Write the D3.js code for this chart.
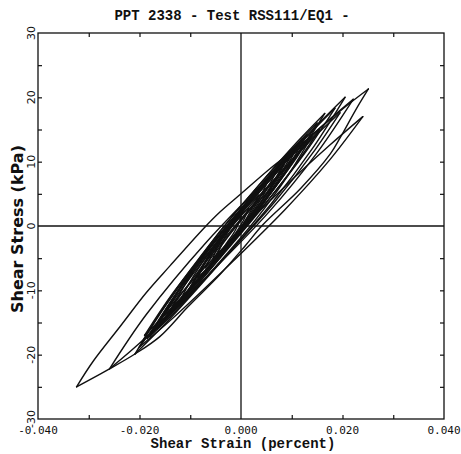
<!DOCTYPE html>
<html>
<head>
<meta charset="utf-8">
<script src="https://cdn.jsdelivr.net/npm/d3@7"></script>
<style>
  html, body { margin: 0; padding: 0; background: #fff; }
  svg { display: block; }
</style>
</head>
<body>
<svg id="chart" width="461" height="454"></svg>
<script>
// Tick values and labels
const strainMajor = [-0.04, -0.02, 0, 0.02, 0.04];
const strainMinor = [-0.03, -0.01, 0.01, 0.03];
const strainLabels = ["-0.040", "-0.020", "0.000", "0.020", "0.040"];
const stressMajor = [-30, -20, -10, 0, 10, 20, 30];
const stressMinor = [-25, -15, -5, 5, 15, 25];

// Hysteresis cycles: [shear strain (%), shear stress (kPa)]
// each runs from its negative peak up to its positive peak and back down
const cycleA = [[-0.0324,-25.0],[-0.0292,-21.1],[-0.0239,-15.7],[-0.0186,-10.3],[-0.0140,-6.2],[-0.0075,-0.5],[-0.0041,2.2],[0.0000,5.0],[0.0057,8.9],[0.0117,12.6],[0.0150,14.8],[0.0205,18.5],[0.0251,21.3],
  [0.0225,17.9],[0.0196,13.8],[0.0176,11.2],[0.0117,5.8],[0.0043,0.2],[0.0008,-3.1],[-0.0041,-7.5],[-0.0105,-12.6],[-0.0160,-17.2],[-0.0209,-19.9],[-0.0259,-22.2],[-0.0324,-25.0]];
const cycleB = [[-0.0259,-22.2],[-0.0187,-13.8],[-0.0067,-2.4],[0.0053,7.4],[0.0149,14.8],[0.0221,19.7],
  [0.0149,11.3],[0.0053,2.0],[-0.0067,-7.8],[-0.0187,-17.3],[-0.0259,-22.2]];
const cycleC = [[-0.0209,-19.9],[-0.0147,-12.2],[-0.0043,-1.4],[0.0060,8.0],[0.0143,15.1],[0.0205,20.0],
  [0.0143,12.3],[0.0060,3.5],[-0.0043,-5.9],[-0.0147,-15.0],[-0.0209,-19.9]];
const cycleD = [[-0.0200,-18.8],[-0.0134,-12.0],[-0.0024,-2.5],[0.0086,6.1],[0.0174,12.5],[0.0240,17.0],
  [0.0174,10.2],[0.0086,2.5],[-0.0024,-6.1],[-0.0134,-14.3],[-0.0200,-18.8]];
const cycleE = [[-0.0195,-18.0],[-0.0141,-11.3],[-0.0051,-1.8],[0.0039,6.7],[0.0111,13.1],[0.0165,17.5],
  [0.0111,10.8],[0.0039,3.1],[-0.0051,-5.4],[-0.0141,-13.6],[-0.0195,-18.0]];
const cycleF = [[-0.0175,-16.5],[-0.0126,-10.3],[-0.0045,-1.7],[0.0036,6.0],[0.0101,11.9],[0.0150,16.0],
  [0.0101,9.8],[0.0036,2.8],[-0.0045,-4.9],[-0.0126,-12.4],[-0.0175,-16.5]];
const cycleG = [[-0.0160,-15.0],[-0.0117,-9.3],[-0.0044,-1.5],[0.0029,5.4],[0.0087,10.6],[0.0130,14.2],
  [0.0087,8.5],[0.0029,2.2],[-0.0044,-4.7],[-0.0117,-11.4],[-0.0160,-15.0]];
const cycleH = [[-0.0140,-13.2],[-0.0103,-8.2],[-0.0040,-1.3],[0.0023,4.8],[0.0073,9.3],[0.0110,12.5],
  [0.0073,7.5],[0.0023,1.9],[-0.0040,-4.2],[-0.0103,-10.0],[-0.0140,-13.2]];
const cycleI = [[-0.0120,-11.5],[-0.0089,-7.2],[-0.0036,-1.2],[0.0017,4.0],[0.0059,7.9],[0.0090,10.5],
  [0.0059,6.2],[0.0017,1.3],[-0.0036,-3.9],[-0.0089,-8.9],[-0.0120,-11.5]];
const cycleJ = [[-0.0102,-9.8],[-0.0076,-6.1],[-0.0033,-1.1],[0.0010,3.2],[0.0044,6.4],[0.0070,8.5],
  [0.0044,4.8],[0.0010,0.7],[-0.0033,-3.6],[-0.0076,-7.7],[-0.0102,-9.8]];
const cycleK = [[-0.0085,-8.0],[-0.0065,-4.9],[-0.0031,-0.9],[0.0003,2.4],[0.0030,4.9],[0.0050,6.5],
  [0.0030,3.4],[0.0003,0.1],[-0.0031,-3.2],[-0.0065,-6.4],[-0.0085,-8.0]];
const cycleL = [[-0.0070,-6.5],[-0.0054,-4.0],[-0.0028,-0.8],[-0.0002,1.8],[0.0019,3.6],[0.0035,4.8],
  [0.0019,2.3],[-0.0002,-0.4],[-0.0028,-3.0],[-0.0054,-5.3],[-0.0070,-6.5]];
const cycleM = [[-0.0055,-5.0],[-0.0045,-3.1],[-0.0027,-0.9],[-0.0009,0.9],[0.0005,2.1],[0.0015,2.8],
  [0.0005,0.9],[-0.0009,-0.9],[-0.0027,-2.7],[-0.0045,-4.3],[-0.0055,-5.0]];
const cycleN = [[-0.0045,-4.2],[-0.0038,-2.7],[-0.0027,-1.1],[-0.0016,0.1],[-0.0007,1.0],[0.0000,1.5],
  [-0.0007,0.0],[-0.0016,-1.3],[-0.0027,-2.5],[-0.0038,-3.7],[-0.0045,-4.2]];
const cycleO = [[-0.0180,-17.2],[-0.0132,-11.0],[-0.0052,-2.5],[0.0028,4.9],[0.0092,10.3],[0.0140,14.0],
  [0.0092,7.8],[0.0028,0.9],[-0.0052,-6.5],[-0.0132,-13.5],[-0.0180,-17.2]];
const cycleP = [[-0.0150,-13.8],[-0.0110,-8.3],[-0.0042,-0.9],[0.0026,5.5],[0.0080,10.3],[0.0120,13.5],
  [0.0080,8.0],[0.0026,1.9],[-0.0042,-4.5],[-0.0110,-10.6],[-0.0150,-13.8]];
const cycleQ = [[-0.0165,-16.0],[-0.0117,-10.5],[-0.0037,-2.4],[0.0043,5.1],[0.0107,10.9],[0.0155,15.0],
  [0.0107,9.5],[0.0043,2.95],[-0.0037,-4.6],[-0.0117,-11.9],[-0.0165,-16.0]];
const cycleR = [[-0.0125,-12.5],[-0.0091,-8.4],[-0.0035,-2.5],[0.0021,2.9],[0.0066,7.05],[0.0100,10.0],
  [0.0066,5.9],[0.0021,1.1],[-0.0035,-4.3],[-0.0091,-9.55],[-0.0125,-12.5]];
const cycleS = [[-0.0185,-17.5],[-0.0139,-11.85],[-0.0061,-3.8],[0.0017,3.5],[0.0079,9.1],[0.0125,13.0],
  [0.0079,7.35],[0.0017,0.8],[-0.0061,-6.5],[-0.0139,-13.6],[-0.0185,-17.5]];
const cycleT = [[-0.0095,-9.0],[-0.0068,-5.4],[-0.0023,-0.4],[0.0022,4.0],[0.0058,7.2],[0.0085,9.5],
  [0.0058,5.9],[0.0022,1.8],[-0.0023,-2.6],[-0.0068,-6.75],[-0.0095,-9.0]];
const cycleU = [[-0.0060,-6.0],[-0.0042,-3.5],[-0.0012,-0.3],[0.0018,2.5],[0.0042,4.45],[0.0060,5.8],
  [0.0042,3.3],[0.0018,0.7],[-0.0012,-2.1],[-0.0042,-4.65],[-0.0060,-6.0]];
const cycleV = [[-0.0190,-17.0],[-0.0134,-10.4],[-0.0040,-1.1],[0.0054,7.3],[0.0129,13.8],[0.0185,18.3],
  [0.0129,11.7],[0.0054,4.1],[-0.0040,-4.3],[-0.0134,-12.5],[-0.0190,-17.0]];
const cycleW = [[-0.0170,-16.0],[-0.0115,-9.6],[-0.0024,-0.6],[0.0067,7.4],[0.0140,13.5],[0.0195,17.6],
  [0.0140,11.2],[0.0067,3.8],[-0.0024,-4.2],[-0.0115,-11.9],[-0.0170,-16.0]];

const cycles = [cycleA, cycleB, cycleC, cycleD, cycleE, cycleF, cycleG, cycleH,
                cycleI, cycleJ, cycleK, cycleL, cycleM, cycleN, cycleO, cycleP,
                cycleQ, cycleR, cycleS, cycleT, cycleU, cycleV, cycleW];

const svg = d3.select("#chart");
const plotLeft = 38, plotRight = 444, plotTop = 33, plotBottom = 419;

const x = d3.scaleLinear().domain([-0.04, 0.04]).range([plotLeft, plotRight]);
const y = d3.scaleLinear().domain([-30, 30]).range([plotBottom, plotTop]);

const ink = "#101010";

// Loops: each cycle is split at its positive peak so the peaks stay sharp
const line = d3.line().x(d => x(d[0])).y(d => y(d[1])).curve(d3.curveCatmullRom.alpha(0.5));
const loops = svg.append("g").attr("fill", "none").attr("stroke", ink)
  .attr("stroke-width", 1.4).attr("stroke-linejoin", "round").attr("stroke-linecap", "round");
cycles.forEach(c => {
  const peak = d3.maxIndex(c, d => d[0]);
  loops.append("path").attr("d", line(c.slice(0, peak + 1)));
  loops.append("path").attr("d", line(c.slice(peak)));
});

// Zero cross lines
svg.append("line").attr("x1", x(0)).attr("x2", x(0)).attr("y1", plotTop).attr("y2", plotBottom)
  .attr("stroke", ink).attr("stroke-width", 1.3);
svg.append("line").attr("x1", plotLeft).attr("x2", plotRight).attr("y1", y(0)).attr("y2", y(0))
  .attr("stroke", ink).attr("stroke-width", 1.3);

// Inward ticks on all four sides
function styleAxis(g) {
  g.select(".domain").remove();
  g.selectAll(".tick line").attr("stroke", ink).attr("stroke-width", 1.2);
}
const strainTicks = strainMajor.concat(strainMinor).filter(v => v > -0.04 && v < 0.04 && v !== 0);
const stressTicks = stressMajor.concat(stressMinor).filter(v => v > -30 && v < 30 && v !== 0);

svg.append("g").attr("transform", `translate(0,${plotBottom})`)
  .call(d3.axisBottom(x).tickValues(strainTicks).tickSize(-4).tickFormat(""))
  .call(styleAxis);
svg.append("g").attr("transform", `translate(0,${plotTop})`)
  .call(d3.axisTop(x).tickValues(strainTicks).tickSize(-4).tickFormat(""))
  .call(styleAxis);
svg.append("g").attr("transform", `translate(${plotLeft},0)`)
  .call(d3.axisLeft(y).tickValues(stressTicks).tickSize(-4).tickFormat(""))
  .call(styleAxis);
svg.append("g").attr("transform", `translate(${plotRight},0)`)
  .call(d3.axisRight(y).tickValues(stressTicks).tickSize(-4).tickFormat(""))
  .call(styleAxis);

// Frame
svg.append("rect").attr("x", plotLeft).attr("y", plotTop)
  .attr("width", plotRight - plotLeft).attr("height", plotBottom - plotTop)
  .attr("fill", "none").attr("stroke", ink).attr("stroke-width", 1.3);

// Tick labels
svg.append("g").selectAll("text").data(strainMajor).join("text")
  .attr("x", d => x(d)).attr("y", plotBottom + 15)
  .attr("text-anchor", "middle")
  .attr("font-family", "'DejaVu Sans Mono', monospace").attr("font-size", 11)
  .attr("fill", ink)
  .text((d, i) => strainLabels[i]);

svg.append("g").selectAll("text").data(stressMajor).join("text")
  .attr("transform", d => `translate(35,${y(d)}) rotate(-90)`)
  .attr("text-anchor", "middle")
  .attr("font-family", "'DejaVu Sans', sans-serif").attr("font-size", 11)
  .attr("fill", ink)
  .text(d => d);

// Titles
svg.append("text").attr("x", 232).attr("y", 20).attr("text-anchor", "middle")
  .attr("font-family", "'Liberation Mono', monospace").attr("font-weight", "bold").attr("font-size", 14)
  .attr("fill", ink).text("PPT 2338 - Test RSS111/EQ1 -");

svg.append("text").attr("x", 243).attr("y", 448).attr("text-anchor", "middle")
  .attr("font-family", "'Liberation Mono', monospace").attr("font-weight", "bold").attr("font-size", 14)
  .attr("fill", ink).text("Shear Strain (percent)");

svg.append("text").attr("transform", `translate(23,${(plotTop + plotBottom) / 2 + 3}) rotate(-90)`)
  .attr("text-anchor", "middle")
  .attr("font-family", "'DejaVu Sans', sans-serif").attr("font-weight", "bold").attr("font-size", 16)
  .attr("fill", ink).text("Shear Stress (kPa)");
</script>
</body>
</html>
